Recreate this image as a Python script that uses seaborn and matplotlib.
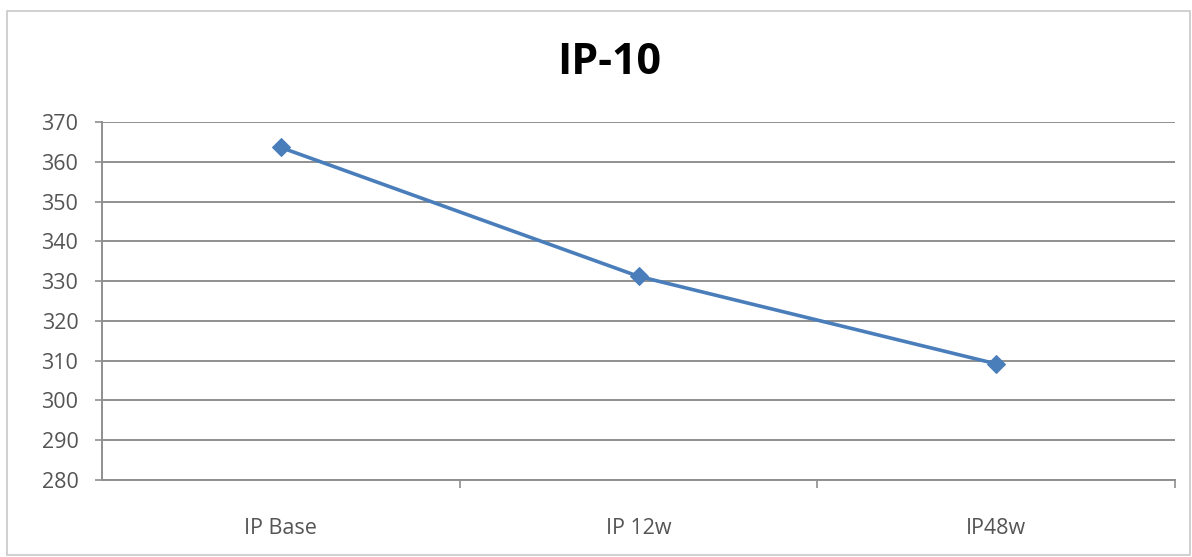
import matplotlib
matplotlib.use("Agg")
import matplotlib.pyplot as plt
import seaborn as sns
import pandas as pd
from matplotlib.patches import Rectangle
from matplotlib.ticker import FixedLocator

categories = ["IP Base", "IP 12w", "IP48w"]
values = [363.6, 331.2, 309.2]
title = "IP-10"
yticks = [280, 290, 300, 310, 320, 330, 340, 350, 360, 370]

sns.set_theme(style="white")
plt.rcParams['font.family'] = ['Open Sans', 'DejaVu Sans']

W, H = 1192, 557
fig = plt.figure(figsize=(W / 100, H / 100), dpi=100)
fig.patch.set_facecolor("white")
ax = fig.add_axes([102 / W, 1 - 480 / H, (1175 - 102) / W, (480 - 122) / H])

df = pd.DataFrame({"cat": categories, "val": values})
sns.lineplot(data=df, x="cat", y="val", ax=ax, color="#4A7EBB", linewidth=2.6,
             marker="D", markersize=9, markeredgecolor="#4A7EBB", sort=False)

ax.set_xlim(-0.5, len(categories) - 0.5)
ax.set_ylim(min(yticks), max(yticks))
ax.set_yticks(yticks)
ax.set_xticks(range(len(categories)))
ax.set_xticklabels(categories)
ax.xaxis.set_minor_locator(FixedLocator([0.5 + i for i in range(len(categories))]))
ax.set_xlabel("")
ax.set_ylabel("")

ax.yaxis.grid(True, color="#8f8f8f", linewidth=1.4)
ax.xaxis.grid(False)
ax.set_axisbelow(True)
for s in ["top", "right"]:
    ax.spines[s].set_visible(False)
for s in ["left", "bottom"]:
    ax.spines[s].set_color("#8f8f8f")
    ax.spines[s].set_linewidth(1.4)

ax.tick_params(axis="y", which="major", direction="out", length=5, width=1.2,
               color="#8f8f8f", labelsize=15.5, labelcolor="#555555", pad=12, left=True)
ax.tick_params(axis="x", which="major", length=0, labelsize=15.5,
               labelcolor="#555555", pad=27)
ax.tick_params(axis="x", which="minor", direction="out", length=6, width=1.2,
               color="#8f8f8f", bottom=True)

fig.text(609 / W, 1 - 62 / H, title, ha="center", va="center",
         fontsize=31, fontweight="bold", color="#000000")

fig.add_artist(Rectangle((7 / W, 0.003), 1 - 7 / W - 0.002, 1 - 11 / H - 0.003,
                         transform=fig.transFigure, fill=False,
                         edgecolor="#c8c8c8", linewidth=1.2))

fig.savefig("out.png", dpi=100)
